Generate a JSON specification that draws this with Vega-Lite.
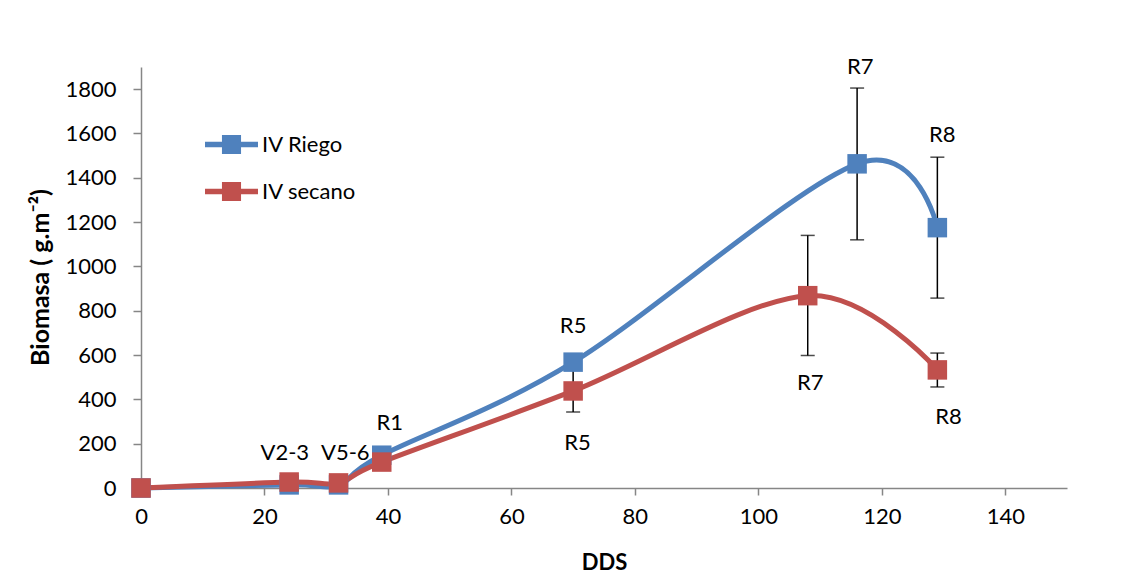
{
  "$schema": "https://vega.github.io/schema/vega-lite/v6.json",
  "width": 926,
  "height": 421,
  "autosize": {"type": "none"},
  "padding": {"left": 141, "top": 67, "right": 62, "bottom": 86},
  "background": "white",
  "config": {
    "view": {"stroke": null},
    "font": "Lato",
    "axis": {"grid": false, "domainColor": "#868686", "tickColor": "#868686", "domainWidth": 1.5, "tickWidth": 1.5, "labelColor": "black", "labelFont": "Lato", "labelFontSize": 22, "titleFont": "Lato", "titleColor": "black", "titleFontWeight": "bold", "labelFlush": false}
  },
  "datasets": {
    "series": [
      {"serie": "IV Riego", "dds": 0, "biomasa": 0},
      {"serie": "IV Riego", "dds": 24, "biomasa": 14},
      {"serie": "IV Riego", "dds": 32, "biomasa": 14},
      {"serie": "IV Riego", "dds": 39, "biomasa": 148},
      {"serie": "IV Riego", "dds": 70, "biomasa": 568},
      {"serie": "IV Riego", "dds": 116, "biomasa": 1463},
      {"serie": "IV Riego", "dds": 129, "biomasa": 1175},
      {"serie": "IV secano", "dds": 0, "biomasa": 0},
      {"serie": "IV secano", "dds": 24, "biomasa": 27},
      {"serie": "IV secano", "dds": 32, "biomasa": 23},
      {"serie": "IV secano", "dds": 39, "biomasa": 117},
      {"serie": "IV secano", "dds": 70, "biomasa": 438},
      {"serie": "IV secano", "dds": 108, "biomasa": 868},
      {"serie": "IV secano", "dds": 129, "biomasa": 533}
    ],
    "errors": [
      {"serie": "IV Riego", "dds": 116, "lo": 1120, "hi": 1805},
      {"serie": "IV Riego", "dds": 129, "lo": 857, "hi": 1493},
      {"serie": "IV secano", "dds": 70, "lo": 343, "hi": 533},
      {"serie": "IV secano", "dds": 108, "lo": 598, "hi": 1140},
      {"serie": "IV secano", "dds": 129, "lo": 456, "hi": 609}
    ],
    "labels": [
      {"label": "V2-3", "lx": 23.3, "ly": 158},
      {"label": "V5-6", "lx": 33.1, "ly": 158},
      {"label": "R1", "lx": 40.3, "ly": 293},
      {"label": "R5", "lx": 70, "ly": 731},
      {"label": "R7", "lx": 116.5, "ly": 1899},
      {"label": "R8", "lx": 129.8, "ly": 1592},
      {"label": "R5", "lx": 70.7, "ly": 203},
      {"label": "R7", "lx": 108.4, "ly": 474},
      {"label": "R8", "lx": 130.8, "ly": 320}
    ]
  },
  "layer": [
    {
      "data": {"name": "errors"},
      "mark": {"type": "errorbar", "color": "black", "thickness": 1.5, "ticks": {"size": 14, "thickness": 1.5, "color": "black"}},
      "encoding": {
        "x": {"field": "dds", "type": "quantitative", "title": "DDS"},
        "y": {"field": "lo", "type": "quantitative", "title": "Biomasa ( g.m⁻²)"},
        "y2": {"field": "hi"}
      }
    },
    {
      "data": {"name": "series"},
      "mark": {"type": "line", "interpolate": "cardinal", "strokeWidth": 5},
      "encoding": {
        "x": {"field": "dds", "type": "quantitative", "title": "DDS", "scale": {"domain": [0, 150], "nice": false},
          "axis": {"values": [0, 20, 40, 60, 80, 100, 120, 140], "tickSize": 7, "labelPadding": 11, "titleFontSize": 22, "titleY": 74, "titleBaseline": "middle"}},
        "y": {"field": "biomasa", "type": "quantitative", "title": "Biomasa ( g.m⁻²)", "scale": {"domain": [0, 1900], "nice": false},
          "axis": {"values": [0, 200, 400, 600, 800, 1000, 1200, 1400, 1600, 1800], "format": "d", "tickSize": 8, "labelPadding": 17, "titleFontSize": 25, "titleX": -101, "titleY": 210, "titleAngle": 270, "titleAlign": "center", "titleBaseline": "middle"}},
        "color": {"field": "serie", "type": "nominal", "scale": {"domain": ["IV Riego", "IV secano"], "range": ["#4F81BD", "#C0504D"]},
          "legend": {"title": null, "orient": "none", "legendX": 64, "legendY": 51, "symbolType": "M-1,-0.1L1,-0.1L1,0.1L-1,0.1Z M-0.36,-0.36L0.36,-0.36L0.36,0.36L-0.36,0.36Z", "symbolSize": 2809, "symbolStrokeWidth": 0, "symbolOpacity": 1, "labelFont": "Lato", "labelFontSize": 22, "labelColor": "black", "labelOffset": 4, "rowPadding": 9,
            "encode": {"symbols": {"update": {"fill": {"scale": "color", "field": "value"}, "fillOpacity": {"value": 1}, "strokeWidth": {"value": 0}}}}}}
      }
    },
    {
      "data": {"name": "series"},
      "mark": {"type": "point", "shape": "square", "filled": true, "size": 380, "opacity": 1},
      "encoding": {
        "x": {"field": "dds", "type": "quantitative", "title": "DDS"},
        "y": {"field": "biomasa", "type": "quantitative", "title": "Biomasa ( g.m⁻²)"},
        "color": {"field": "serie", "type": "nominal"}
      }
    },
    {
      "data": {"name": "labels"},
      "mark": {"type": "text", "font": "Lato", "fontSize": 22, "color": "black", "align": "center", "baseline": "middle"},
      "encoding": {
        "x": {"field": "lx", "type": "quantitative", "title": "DDS"},
        "y": {"field": "ly", "type": "quantitative", "title": "Biomasa ( g.m⁻²)"},
        "text": {"field": "label"}
      }
    }
  ]
}
